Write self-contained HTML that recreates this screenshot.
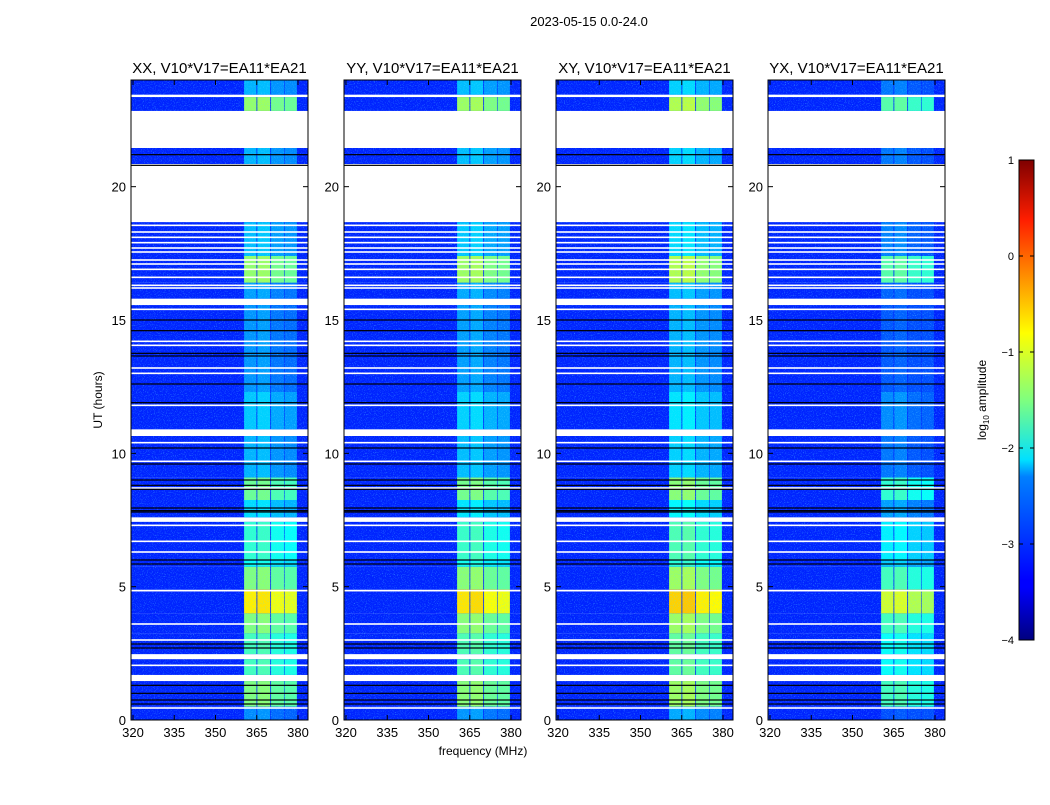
<!DOCTYPE html>
<html><head><meta charset="utf-8">
<style>
body{margin:0;background:#fff;width:1050px;height:800px;overflow:hidden;font-family:"Liberation Sans",sans-serif;}
svg text{font-family:"Liberation Sans",sans-serif;}
</style></head>
<body>
<svg id="chart" width="1050" height="800" xmlns="http://www.w3.org/2000/svg">
<defs>
<filter id="noise" x="0" y="0" width="100%" height="100%" filterUnits="objectBoundingBox">
<feTurbulence type="fractalNoise" baseFrequency="0.9" numOctaves="2" seed="3" result="t"/>
<feColorMatrix type="matrix" values="0 0 0 0 0.1  0 0 0 0 0.75  0 0 0 0 1  0 0 0 3.2 -1.75"/>
</filter>
<linearGradient id="jet" x1="0" y1="1" x2="0" y2="0">
<stop offset="0" stop-color="#00007f"/><stop offset="0.11" stop-color="#0000ff"/>
<stop offset="0.125" stop-color="#0000ff"/><stop offset="0.34" stop-color="#0080ff"/>
<stop offset="0.375" stop-color="#00e0ff"/><stop offset="0.5" stop-color="#7fff7f"/>
<stop offset="0.64" stop-color="#ffff00"/><stop offset="0.875" stop-color="#ff1e00"/>
<stop offset="1" stop-color="#7f0000"/></linearGradient>
</defs>
<text x="589" y="26" font-size="13" text-anchor="middle">2023-05-15 0.0-24.0</text>
<text x="483" y="755" font-size="12" text-anchor="middle">frequency (MHz)</text>
<text x="0" y="0" font-size="12" text-anchor="middle" transform="translate(102,400) rotate(-90)">UT (hours)</text>
<g id="panels"></g>
<g>
<rect x="1019" y="160" width="15" height="480" fill="url(#jet)" stroke="#000" stroke-width="1"/>
<g id="cbticks"></g>
<text x="0" y="0" font-size="12" text-anchor="middle" transform="translate(986,400) rotate(-90)">log<tspan font-size="8" dy="3">10</tspan><tspan dy="-3"> amplitude</tspan></text>
</g>
</svg>
<script>
const NS="http://www.w3.org/2000/svg";
const panelTitles=["XX, V10*V17=EA11*EA21","YY, V10*V17=EA11*EA21","XY, V10*V17=EA11*EA21","YX, V10*V17=EA11*EA21"];
const panelOffset=[0,0.05,0.15,-0.3];
const segStart=[0.0,0.5,1.69,2.47,3.25,4.0,4.9,5.75,6.0,7.6,8.25,9.1,10.9,12.3,15.8,16.4,17.4,20.85,22.84,23.45];
const segEnd  =[0.5,1.46,2.28,3.25,4.0,4.9,5.75,6.0,7.43,8.25,9.1,10.65,12.3,15.56,16.4,17.4,18.67,21.45,23.36,24.0];
const segLevel=[-2.7,-1.5,-1.8,-1.8,-1.5,-0.8,-1.5,-2.1,-1.9,-2.3,-1.6,-2.5,-2.4,-2.65,-2.6,-1.4,-2.45,-2.5,-1.4,-2.5];
const bandLo=[360.4,365.2,370.2,375.1];
const bandHi=[364.9,369.9,374.9,379.6];
const bandRel=[0,0.05,-0.15,-0.2];
const baseLevel=-3.2;
const whiteRows=[23.4,18.55,18.3,18.1,17.9,17.7,17.55,17.25,17.1,16.9,16.6,16.3,16.2,15.4,14.2,14.05,13.2,13.0,11.8,10.4,9.7,8.7,7.3,6.7,6.3,4.85,3.6,3.0,2.05,0.45];
const blackRows=[21.2,20.8,15.0,14.6,13.75,13.65,12.6,11.9,10.2,9.6,9.0,8.8,8.65,7.95,7.85,7.8,6.0,5.85,2.85,2.7,1.3,1.0,0.75,0.6];
const xTicks=[320,335,350,365,380];
const yTicks=[0,5,10,15,20];
const cbTicks=[1,0,-1,-2,-3,-4];

const panelLeft=[131,344,556,768], PW=177, PT=80, PH=640;
function yScale(h){return PT+PH-(h/24)*PH;}
function xScale(f,i){return panelLeft[i]+2+(f-320)*2.75;}
function jet(v){let t=Math.max(0,Math.min(1,(v+4)/5));
 const c=x=>Math.round(255*Math.max(0,Math.min(1,x)));
 return `rgb(${c(1.5-Math.abs(4*t-3))},${c(1.5-Math.abs(4*t-2))},${c(1.5-Math.abs(4*t-1))})`;}
function mk(tag,attrs,parent){const e=document.createElementNS(NS,tag);for(const k in attrs)e.setAttribute(k,attrs[k]);parent.appendChild(e);return e;}
const panels=document.getElementById('panels');
panelTitles.forEach((title,i)=>{
 const g=mk('g',{},panels);
 
 
 const L=panelLeft[i];
 const cp=mk('clipPath',{id:'cp'+i},g);mk('rect',{x:L,y:PT,width:PW,height:PH},cp);
 const d=mk('g',{'clip-path':'url(#cp'+i+')'},g);
 segStart.forEach((s,k)=>{
  const y0=yScale(segEnd[k]),y1=yScale(s);
  const r=mk('rect',{x:L,y:y0,width:PW,height:y1-y0,fill:jet(baseLevel)},d);
  
  
  bandLo.forEach((lo,b)=>{
   const v=segLevel[k]+bandRel[b]+panelOffset[i];
   const br=mk('rect',{x:xScale(lo,i),y:y0,width:xScale(bandHi[b],i)-xScale(lo,i),height:y1-y0,fill:jet(Math.max(v,baseLevel+0.2))},d);
   
   
  });
  mk('rect',{x:L,y:y0,width:PW,height:y1-y0,filter:'url(#noise)',opacity:0.5},d);
 });
 whiteRows.forEach(h=>{const l=mk('rect',{x:L,y:yScale(h)-0.8,width:PW,height:1.6,fill:'#fff'},d);});
 blackRows.forEach(h=>{const l=mk('rect',{x:L,y:yScale(h)-0.6,width:PW,height:1.2,fill:'#000'},d);});
 const fr=mk('rect',{x:L,y:PT,width:PW,height:PH,fill:'none',stroke:'#000','stroke-width':1},g);
 
 const t=mk('text',{x:L+PW/2,y:73,'font-size':15,'text-anchor':'middle'},g);t.textContent=title;
 
 xTicks.forEach(f=>{const x=xScale(f,i);
  mk('line',{x1:x,x2:x,y1:PT+PH,y2:PT+PH-5,stroke:'#000'},g);
  mk('line',{x1:x,x2:x,y1:PT,y2:PT+5,stroke:'#000'},g);
  const tx=mk('text',{x:x,y:PT+PH+17,'font-size':13,'text-anchor':'middle'},g);tx.textContent=f;
  });
 yTicks.forEach(h=>{const y=yScale(h);
  mk('line',{x1:L,x2:L+5,y1:y,y2:y,stroke:'#000'},g);
  mk('line',{x1:L+PW,x2:L+PW-5,y1:y,y2:y,stroke:'#000'},g);
  const ty=mk('text',{x:L-5,y:y+5,'font-size':13,'text-anchor':'end'},g);ty.textContent=h;
  });
});
const cbg=document.getElementById('cbticks');
cbTicks.forEach(v=>{const y=160+(1-v)/5*480;
 mk('line',{x1:1019,x2:1023,y1:y,y2:y,stroke:'#000'},cbg);
 mk('line',{x1:1034,x2:1030,y1:y,y2:y,stroke:'#000'},cbg);
 const t=mk('text',{x:1014,y:y+4,'font-size':11,'text-anchor':'end'},cbg);
 t.textContent=v<0?'\u2212'+(-v):v;
 });
</script>
</body></html>
